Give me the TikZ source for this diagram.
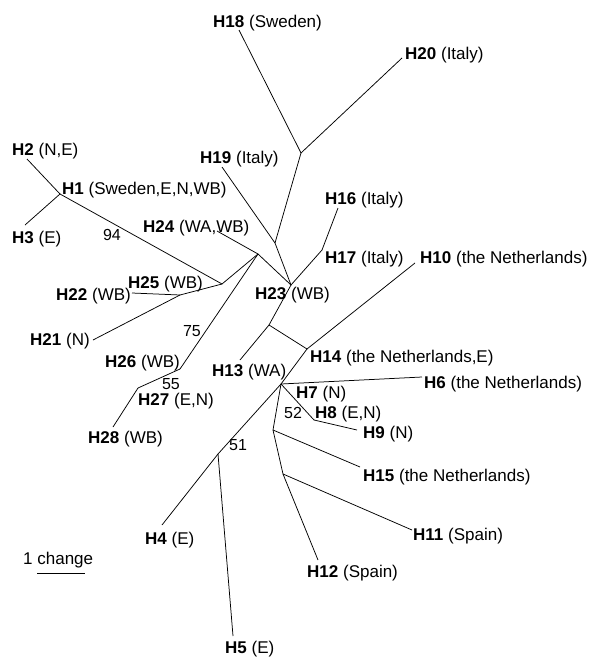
\documentclass[tikz,border=0pt]{standalone}
\usepackage{fontspec}
\setmainfont{Liberation Sans}
\begin{document}
\begin{tikzpicture}[x=1pt,y=-1pt,
  edge/.style={draw=black,line width=0.75pt},
  lab/.style={anchor=base west,inner sep=0pt,font=\fontsize{17}{20}\selectfont},
  boot/.style={anchor=center,inner sep=0pt,font=\fontsize{16}{19}\selectfont}]
\useasboundingbox (0,0) rectangle (589,659);
% tips and junctions
\coordinate (t18) at (239,30);
\coordinate (j18) at (301,153);
\coordinate (t20) at (402,58);
\coordinate (t19) at (222,167);
\coordinate (j19) at (275,243);
\coordinate (j23) at (291,285);
\coordinate (t24) at (217,231);
\coordinate (j24) at (258,254);
\coordinate (j25) at (222,284);
\coordinate (j1) at (60,194);
\coordinate (t2) at (27,159);
\coordinate (t3) at (25,225);
\coordinate (j22) at (180,295);
\coordinate (t22) at (132,293);
\coordinate (t21) at (93,340);
\coordinate (j26) at (180,369);
\coordinate (j27) at (138,388);
\coordinate (t28) at (113,427);
\coordinate (j17) at (322,250);
\coordinate (t16) at (338,208);
\coordinate (j13) at (269,325);
\coordinate (t13) at (240,360);
\coordinate (j14) at (307,349);
\coordinate (t10) at (415,263);
\coordinate (j7) at (281,384);
\coordinate (t6) at (422,377);
\coordinate (j8) at (314,420);
\coordinate (t9) at (357,430);
\coordinate (j15) at (273,430);
\coordinate (t15) at (360,467);
\coordinate (j11) at (283,474);
\coordinate (t11) at (412,530);
\coordinate (t12) at (318,560);
\coordinate (j5) at (218,454);
\coordinate (t4) at (162,525);
\coordinate (t5) at (233,636);
\coordinate (sb1) at (37,573);
\coordinate (sb2) at (85,573);
% edges
\draw[edge] (t18) -- (j18);
\draw[edge] (t20) -- (j18);
\draw[edge] (j18) -- (j19);
\draw[edge] (t19) -- (j19);
\draw[edge] (j19) -- (j23);
\draw[edge] (t24) -- (j24);
\draw[edge] (j24) -- (j23);
\draw[edge] (j24) -- (j25);
\draw[edge] (j1) -- (j25);
\draw[edge] (t2) -- (j1);
\draw[edge] (t3) -- (j1);
\draw[edge] (j25) -- (j22);
\draw[edge] (t22) -- (j22);
\draw[edge] (t21) -- (j22);
\draw[edge] (j24) -- (j26);
\draw[edge] (j26) -- (j27);
\draw[edge] (j27) -- (t28);
\draw[edge] (j23) -- (j17);
\draw[edge] (j17) -- (t16);
\draw[edge] (j23) -- (j13);
\draw[edge] (j13) -- (t13);
\draw[edge] (j13) -- (j14);
\draw[edge] (j14) -- (t10);
\draw[edge] (j14) -- (j7);
\draw[edge] (j7) -- (t6);
\draw[edge] (j7) -- (j8);
\draw[edge] (j8) -- (t9);
\draw[edge] (j7) -- (j15);
\draw[edge] (j15) -- (t15);
\draw[edge] (j15) -- (j11);
\draw[edge] (j11) -- (t11);
\draw[edge] (j11) -- (t12);
\draw[edge] (j7) -- (j5);
\draw[edge] (j5) -- (t4);
\draw[edge] (j5) -- (t5);
\draw[edge] (sb1) -- (sb2);
% labels
\node[lab] (L18) at (213,27) {\textbf{H18} (Sweden)};
\node[lab] (L20) at (405,59) {\textbf{H20} (Italy)};
\node[lab] (L19) at (200,163) {\textbf{H19} (Italy)};
\node[lab] (L2) at (12,155) {\textbf{H2} (N,E)};
\node[lab] (L1) at (62,194) {\textbf{H1} (Sweden,E,N,WB)};
\node[lab] (L3) at (12,243) {\textbf{H3} (E)};
\node[lab] (L24) at (143,232) {\textbf{H24} (WA,WB)};
\node[lab] (L25) at (128,288) {\textbf{H25} (WB)};
\node[lab] (L22) at (56,300) {\textbf{H22} (WB)};
\node[lab] (L21) at (30,345) {\textbf{H21} (N)};
\node[lab] (L26) at (105,367) {\textbf{H26} (WB)};
\node[lab] (L27) at (138,405) {\textbf{H27} (E,N)};
\node[lab] (L28) at (88,443) {\textbf{H28} (WB)};
\node[lab] (L16) at (325,204) {\textbf{H16} (Italy)};
\node[lab] (L17) at (325,263) {\textbf{H17} (Italy)};
\node[lab] (L10) at (420,263) {\textbf{H10} (the Netherlands)};
\node[lab] (L23) at (255,299) {\textbf{H23} (WB)};
\node[lab] (L14) at (310,362) {\textbf{H14} (the Netherlands,E)};
\node[lab] (L13) at (212,376) {\textbf{H13} (WA)};
\node[lab] (L6) at (424,388) {\textbf{H6} (the Netherlands)};
\node[lab] (L7) at (296,398) {\textbf{H7} (N)};
\node[lab] (L8) at (315,418) {\textbf{H8} (E,N)};
\node[lab] (L9) at (363,438) {\textbf{H9} (N)};
\node[lab] (L15) at (363,481) {\textbf{H15} (the Netherlands)};
\node[lab] (L11) at (413,540) {\textbf{H11} (Spain)};
\node[lab] (L12) at (307,577) {\textbf{H12} (Spain)};
\node[lab] (L4) at (145,544) {\textbf{H4} (E)};
\node[lab] (L5) at (225,653) {\textbf{H5} (E)};
\node[lab] (Lscale) at (23,564) {1 change};
% bootstrap values
\node[boot] (b94) at (112,235) {94};
\node[boot] (b75) at (192,331) {75};
\node[boot] (b55) at (171,384) {55};
\node[boot] (b52) at (293,413) {52};
\node[boot] (b51) at (238,445) {51};
\end{tikzpicture}
\end{document}
